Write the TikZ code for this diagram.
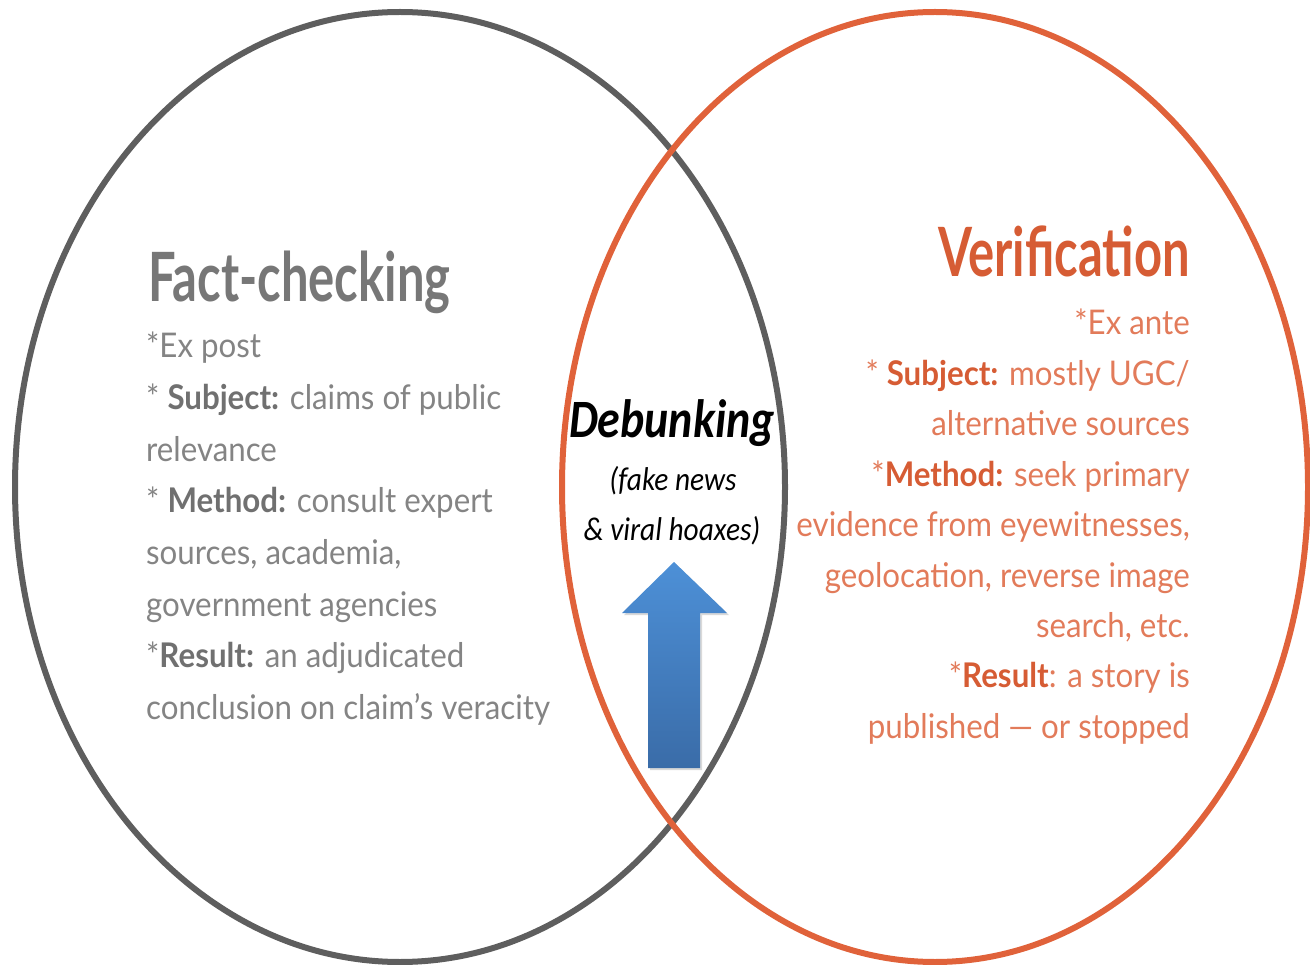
\documentclass[tikz,border=0pt]{standalone}
\usepackage{fontspec}
\setmainfont{Lato}[FakeStretch=0.92]
\newfontfamily\headfont{Lato}[FakeStretch=0.72]
\newfontfamily\calfont{Carlito}[FakeStretch=0.85]
\newfontfamily\calsubfont{Carlito}[FakeStretch=0.89]
\usetikzlibrary{shadows}

\definecolor{ringgray}{HTML}{5E5E5E}
\definecolor{ringorange}{HTML}{E0623A}
\definecolor{fcgray}{HTML}{848484}
\definecolor{fcdark}{HTML}{707070}
\definecolor{verorange}{HTML}{E27B5A}
\definecolor{verdark}{HTML}{D65C34}
\definecolor{arrowtop}{HTML}{4D90D7}
\definecolor{arrowbot}{HTML}{3A6CA8}

\newcommand{\fcbold}[1]{{\color{fcdark}\bfseries #1}}
\newcommand{\verbold}[1]{{\color{verdark}\bfseries #1}}

\begin{document}
\begin{tikzpicture}[x=1pt, y=-1pt]

\tikzset{headtext/.style={font=\headfont\bfseries\fontsize{68}{80}\selectfont, inner sep=0pt}}
\tikzset{bodytext/.style={font=\fontsize{34}{40}\selectfont, inner sep=0pt}}
\tikzset{subtext/.style={font=\calsubfont\itshape\fontsize{33}{38}\selectfont, inner sep=0pt, anchor=base}}
\tikzset{ring/.style={line width=6pt}}

\useasboundingbox (0,0) rectangle (1310,965);

% the two circles
\draw[ring, ringgray] (400,487) ellipse [x radius=385pt, y radius=475pt];
\draw[ring, ringorange] (935,487) ellipse [x radius=373pt, y radius=475pt];

% fact-checking side
\node[headtext, text=fcgray!90!black, anchor=base west] (fchead) at (148,302) {Fact-checking};
\foreach \txt [count=\i] in {*Ex post,
    {* \fcbold{Subject:} claims of public},
    relevance,
    {* \fcbold{Method:} consult expert},
    {sources, academia,},
    government agencies,
    {*\fcbold{Result:} an adjudicated},
    conclusion on claim's veracity}
  \node[bodytext, text=fcgray, anchor=base west] (fc\i) at (146,{358+51.6*(\i-1)}) {\txt};

% verification side
\node[headtext, text=verdark, anchor=base east] (verhead) at (1190,277) {Verification};
\foreach \txt [count=\i] in {*Ex ante,
    {* \verbold{Subject:} mostly UGC/},
    alternative sources,
    {*\verbold{Method:} seek primary},
    {evidence from eyewitnesses,},
    {geolocation, reverse image},
    {search, etc.},
    {*\verbold{Result}: a story is},
    published --- or stopped}
  \node[bodytext, text=verorange, anchor=base east] (ver\i) at (1190,{335+50.4*(\i-1)}) {\txt};

% overlap
\node[font=\calfont\bfseries\itshape\fontsize{54}{60}\selectfont, inner sep=0pt, anchor=base] (debunk) at (672,438) {Debunking};
\node[subtext] (deb1) at (673,490) {(fake news};
\node[subtext] (deb2) at (672,540) {\& viral hoaxes)};

% block arrow pointing up at the overlap
\path[top color=arrowtop, bottom color=arrowbot, drop shadow={opacity=0.3, shadow xshift=2pt, shadow yshift=-2pt}]
  (674,562) -- (727,613) -- (700,613) -- (700,768) -- (648,768) -- (648,613) -- (622,613) -- cycle;

\end{tikzpicture}
\end{document}
